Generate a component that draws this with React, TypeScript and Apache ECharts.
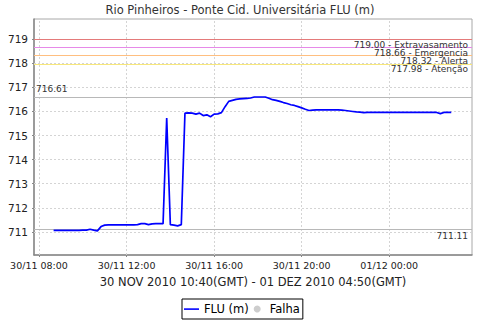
import React, { useEffect, useRef } from "react";
import * as echarts from "echarts";

const TITLE = "Rio Pinheiros - Ponte Cid. Universitária FLU (m)";
const X_NAME = "30 NOV 2010 10:40(GMT) - 01 DEZ 2010 04:50(GMT)";

// local time of each reading (30/11 -> 01/12)
const times = [
  "08:40","08:50","09:00","09:10","09:20","09:30","09:40","09:50","10:00","10:10",
  "10:20","10:30","10:40","10:50","11:00","11:10","11:20","11:30","11:40","11:50",
  "12:00","12:10","12:20","12:30","12:40","12:50","13:00","13:10","13:20","13:30",
  "13:40","13:50","14:00","14:10","14:20","14:30","14:40","14:50","15:00","15:10",
  "15:20","15:30","15:40","15:50","16:00","16:10","16:20","16:30","16:40","16:50",
  "17:00","17:10","17:20","17:30","17:40","17:50","18:00","18:10","18:20","18:30",
  "18:40","18:50","19:00","19:10","19:20","19:30","19:40","19:50","20:00","20:10",
  "20:20","20:30","20:40","20:50","21:00","21:10","21:20","21:30","21:40","21:50",
  "22:00","22:10","22:20","22:30","22:40","22:50","23:00","23:10","23:20","23:30",
  "23:40","23:50","00:00","00:10","00:20","00:30","00:40","00:50","01:00","01:10",
  "01:20","01:30","01:40","01:50","02:00","02:10","02:20","02:30","02:40","02:50",
];

const fluValues = [
  711.06,711.06,711.06,711.06,711.06,711.06,711.06,711.06,711.07,711.07,
  711.11,711.07,711.04,711.22,711.28,711.29,711.29,711.29,711.29,711.29,
  711.29,711.29,711.29,711.30,711.34,711.34,711.30,711.33,711.34,711.34,
  711.34,715.73,711.30,711.28,711.25,711.30,715.93,715.94,715.93,715.89,
  715.93,715.83,715.86,715.78,715.89,715.90,715.95,716.20,716.42,716.46,
  716.50,716.52,716.53,716.54,716.56,716.60,716.60,716.60,716.60,716.55,
  716.49,716.46,716.42,716.37,716.33,716.28,716.25,716.20,716.15,716.09,
  716.04,716.06,716.07,716.07,716.07,716.07,716.07,716.07,716.07,716.06,
  716.04,716.02,716.00,715.98,715.97,715.95,715.96,715.96,715.96,715.96,
  715.96,715.96,715.96,715.96,715.96,715.96,715.96,715.96,715.96,715.96,
  715.96,715.96,715.96,715.96,715.96,715.96,715.91,715.96,715.96,715.96,
];

const thresholdValues = [719.0, 718.66, 718.32, 717.98];
const thresholdNames = ["Extravasamento", "Emergencia", "Alerta", "Atenção"];
const thresholdColors = ["#e47a7a", "#e68ae8", "#ffbf80", "#f7e77a"];

const maxValue = 716.61;
const minValue = 711.11;

const xTickHours = [8, 12, 16, 20, 24];
const xTickLabels = ["30/11 08:00", "30/11 12:00", "30/11 16:00", "30/11 20:00", "01/12 00:00"];
const yTicks = [711, 712, 713, 714, 715, 716, 717, 718, 719];

const FONT = "DejaVu Sans";

function toHours(t: string): number {
  const [h, m] = t.split(":").map(Number);
  let v = h + m / 60;
  if (v < 8) v += 24;
  return v;
}

export default function App() {
  const ref = useRef<HTMLDivElement>(null);

  useEffect(() => {
    if (!ref.current) return;
    const chart = echarts.init(ref.current, undefined, { renderer: "svg" });
    const data = times.map((t, i) => [toHours(t), fluValues[i]]);

    const gridMarks: any[] = [
      ...xTickHours.map((h) => ({ xAxis: h })),
      ...yTicks.map((v) => ({ yAxis: v })),
    ];

    const refDefs: any[] = [
      {
        v: maxValue,
        color: "#b8b8b8",
        text: maxValue.toFixed(2),
        position: "insideStartTop",
        distance: [2, 3],
      },
      {
        v: minValue,
        color: "#b8b8b8",
        text: minValue.toFixed(2),
        position: "insideEndBottom",
        distance: [4, 2],
      },
      ...thresholdValues.map((v, i) => ({
        v,
        color: thresholdColors[i],
        text: v.toFixed(2) + " - " + thresholdNames[i],
        position: "insideEndBottom",
        distance: [4, 1],
      })),
    ];

    const refSeries = refDefs.map((r, i) => ({
      type: "line",
      name: "ref" + i,
      data: [],
      z: 2,
      silent: true,
      color: r.color,
      markLine: {
        silent: true,
        symbol: "none",
        lineStyle: { color: r.color, type: "solid", width: 1, opacity: 1 },
        emphasis: { disabled: true },
        label: {
          show: true,
          position: r.position,
          distance: r.distance,
          formatter: r.text,
          fontFamily: FONT,
          fontSize: 9,
          color: "#333",
        },
        data: [{ yAxis: r.v, lineStyle: { color: r.color } }],
      },
    }));

    chart.setOption({
      animation: false,
      backgroundColor: "#ffffff",
      textStyle: { fontFamily: FONT },
      title: {
        text: TITLE,
        left: "center",
        top: 0,
        padding: [4, 0, 0, 0],
        textStyle: { fontFamily: FONT, fontSize: 11.5, fontWeight: "normal", color: "#333" },
      },
      legend: {
        left: 182,
        top: 299,
        padding: [4, 3, 4, 2],
        itemGap: 5,
        itemWidth: 15,
        itemHeight: 7,
        borderColor: "#000",
        borderWidth: 1,
        borderRadius: 0,
        textStyle: { fontFamily: FONT, fontSize: 11.5, color: "#000" },
        data: [
          { name: "FLU (m)", icon: "path://M0,0 M0,2.8 L15,2.8 L15,4.4 L0,4.4 Z M15,7" },
          { name: "Falha", icon: "circle" },
        ],
      },
      grid: {
        left: 34,
        right: 8,
        top: 19,
        bottom: 65,
        show: true,
        borderColor: "#a8a8a8",
        borderWidth: 1,
        outerBoundsMode: "none",
        containLabel: false,
      },
      xAxis: {
        type: "value",
        min: 7.771,
        max: 27.78,
        name: X_NAME,
        nameLocation: "middle",
        nameGap: 21,
        nameTextStyle: { fontFamily: FONT, fontSize: 11.5, color: "#222" },
        axisLine: { show: true, lineStyle: { color: "#888", width: 1.5 } },
        axisTick: { show: true, length: 2, customValues: xTickHours, lineStyle: { color: "#888" } },
        axisLabel: {
          customValues: xTickHours,
          margin: 5,
          fontFamily: FONT,
          fontSize: 9.5,
          color: "#222",
          formatter: (v: number) => {
            const i = xTickHours.indexOf(Math.round(v));
            return i >= 0 ? xTickLabels[i] : "";
          },
        },
        splitLine: { show: false },
      },
      yAxis: {
        type: "value",
        min: 710.04,
        max: 719.84,
        axisLine: { show: true, lineStyle: { color: "#888", width: 1.5 } },
        axisTick: { show: true, length: 2, customValues: yTicks, lineStyle: { color: "#888" } },
        axisLabel: {
          customValues: yTicks,
          margin: 6,
          fontFamily: FONT,
          fontSize: 10.5,
          color: "#222",
          formatter: (v: number) => String(Math.round(v)),
        },
        splitLine: { show: false },
      },
      series: [
        {
          type: "line",
          name: "grid",
          data: [],
          z: 1,
          silent: true,
          markLine: {
            silent: true,
            symbol: "none",
            label: { show: false },
            lineStyle: { color: "#d4d4d4", type: [2, 2], width: 1 },
            data: gridMarks,
          },
        },
        ...refSeries,
        {
          type: "line",
          name: "FLU (m)",
          data,
          z: 5,
          symbol: "none",
          color: "#0000ff",
          lineStyle: { color: "#0000ff", width: 1.7 },
        },
        {
          type: "scatter",
          name: "Falha",
          data: [],
          itemStyle: { color: "#c0c0c0" },
        },
      ],
    });

    return () => chart.dispose();
  }, []);

  return (
    <div
      ref={ref}
      style={{ position: "absolute", left: 0, top: 0, width: 480, height: 320 }}
    />
  );
}
